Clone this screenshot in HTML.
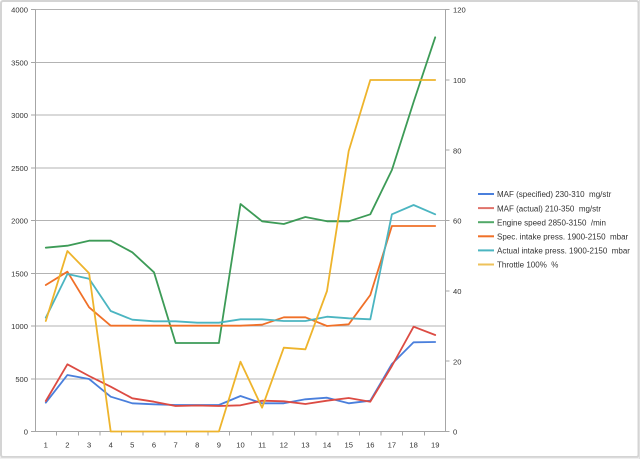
<!DOCTYPE html>
<html><head><meta charset="utf-8"><style>
html,body{margin:0;padding:0;background:#fff;}
svg{display:block;}
text{font-family:"Liberation Sans",Arial,sans-serif;}
</style></head><body>
<svg width="640" height="459" viewBox="0 0 640 459" xmlns="http://www.w3.org/2000/svg">
<rect x="0" y="0" width="640" height="459" fill="#fff"/>
<rect x="1" y="1" width="637.5" height="456" fill="none" stroke="#d4d4d4" stroke-width="2" rx="2"/>
<line x1="0" y1="458" x2="640" y2="458" stroke="#e0e0e0" stroke-width="1"/>
<line x1="639.5" y1="0" x2="639.5" y2="459" stroke="#e0e0e0" stroke-width="1"/>

<!-- gridlines -->
<g stroke="#b3b3b3" stroke-width="1" shape-rendering="crispEdges">
<line x1="35" y1="9.5" x2="445.5" y2="9.5"/>
<line x1="35" y1="62.25" x2="445.5" y2="62.25"/>
<line x1="35" y1="115" x2="445.5" y2="115"/>
<line x1="35" y1="167.75" x2="445.5" y2="167.75"/>
<line x1="35" y1="220.5" x2="445.5" y2="220.5"/>
<line x1="35" y1="273.25" x2="445.5" y2="273.25"/>
<line x1="35" y1="326" x2="445.5" y2="326"/>
<line x1="35" y1="378.75" x2="445.5" y2="378.75"/>
</g>
<!-- axes -->
<g stroke="#a6a6a6" stroke-width="1" shape-rendering="crispEdges">
<line x1="35.5" y1="9.5" x2="35.5" y2="431.5"/>
<line x1="445.5" y1="9.5" x2="445.5" y2="431.5"/>
<line x1="35" y1="431.5" x2="446" y2="431.5"/>
<!-- left ticks -->
<line x1="31" y1="9.5" x2="35" y2="9.5"/>
<line x1="31" y1="62.25" x2="35" y2="62.25"/>
<line x1="31" y1="115" x2="35" y2="115"/>
<line x1="31" y1="167.75" x2="35" y2="167.75"/>
<line x1="31" y1="220.5" x2="35" y2="220.5"/>
<line x1="31" y1="273.25" x2="35" y2="273.25"/>
<line x1="31" y1="326" x2="35" y2="326"/>
<line x1="31" y1="378.75" x2="35" y2="378.75"/>
<line x1="31" y1="431.5" x2="35" y2="431.5"/>
<!-- right ticks -->
<line x1="445.5" y1="9.5" x2="449.5" y2="9.5"/>
<line x1="445.5" y1="79.83" x2="449.5" y2="79.83"/>
<line x1="445.5" y1="150.17" x2="449.5" y2="150.17"/>
<line x1="445.5" y1="220.5" x2="449.5" y2="220.5"/>
<line x1="445.5" y1="290.83" x2="449.5" y2="290.83"/>
<line x1="445.5" y1="361.17" x2="449.5" y2="361.17"/>
<line x1="445.5" y1="431.5" x2="449.5" y2="431.5"/>
<!-- x ticks -->
<line x1="56.6" y1="431.5" x2="56.6" y2="435.5"/>
<line x1="78.3" y1="431.5" x2="78.3" y2="435.5"/>
<line x1="99.9" y1="431.5" x2="99.9" y2="435.5"/>
<line x1="121.5" y1="431.5" x2="121.5" y2="435.5"/>
<line x1="143.2" y1="431.5" x2="143.2" y2="435.5"/>
<line x1="164.8" y1="431.5" x2="164.8" y2="435.5"/>
<line x1="186.4" y1="431.5" x2="186.4" y2="435.5"/>
<line x1="208.1" y1="431.5" x2="208.1" y2="435.5"/>
<line x1="229.7" y1="431.5" x2="229.7" y2="435.5"/>
<line x1="251.3" y1="431.5" x2="251.3" y2="435.5"/>
<line x1="273.0" y1="431.5" x2="273.0" y2="435.5"/>
<line x1="294.6" y1="431.5" x2="294.6" y2="435.5"/>
<line x1="316.2" y1="431.5" x2="316.2" y2="435.5"/>
<line x1="337.8" y1="431.5" x2="337.8" y2="435.5"/>
<line x1="359.5" y1="431.5" x2="359.5" y2="435.5"/>
<line x1="381.1" y1="431.5" x2="381.1" y2="435.5"/>
<line x1="402.7" y1="431.5" x2="402.7" y2="435.5"/>
<line x1="424.4" y1="431.5" x2="424.4" y2="435.5"/>
</g>

<!-- left labels -->
<g font-size="7.6" fill="#333" text-anchor="end">
<text x="28" y="12.6">4000</text>
<text x="28" y="65.3">3500</text>
<text x="28" y="118.1">3000</text>
<text x="28" y="170.8">2500</text>
<text x="28" y="223.6">2000</text>
<text x="28" y="276.3">1500</text>
<text x="28" y="329.1">1000</text>
<text x="28" y="381.8">500</text>
<text x="28" y="434.6">0</text>
</g>
<!-- right labels -->
<g font-size="7.6" fill="#333" text-anchor="start">
<text x="453" y="12.6">120</text>
<text x="453" y="82.9">100</text>
<text x="453" y="153.3">80</text>
<text x="453" y="223.6">60</text>
<text x="453" y="293.9">40</text>
<text x="453" y="364.3">20</text>
<text x="453" y="434.6">0</text>
</g>
<!-- x labels -->
<g font-size="7.6" fill="#333" text-anchor="middle">
<text x="45.8" y="447.3">1</text>
<text x="67.4" y="447.3">2</text>
<text x="89.1" y="447.3">3</text>
<text x="110.7" y="447.3">4</text>
<text x="132.3" y="447.3">5</text>
<text x="154.0" y="447.3">6</text>
<text x="175.6" y="447.3">7</text>
<text x="197.2" y="447.3">8</text>
<text x="218.9" y="447.3">9</text>
<text x="240.5" y="447.3">10</text>
<text x="262.1" y="447.3">11</text>
<text x="283.8" y="447.3">12</text>
<text x="305.4" y="447.3">13</text>
<text x="327.0" y="447.3">14</text>
<text x="348.7" y="447.3">15</text>
<text x="370.3" y="447.3">16</text>
<text x="391.9" y="447.3">17</text>
<text x="413.6" y="447.3">18</text>
<text x="435.2" y="447.3">19</text>
</g>

<!-- series -->
<g fill="none" stroke-width="1.8" stroke-linejoin="round" stroke-linecap="round">
<polyline stroke="#4a7fdc" points="45.8,402.7 67.4,375 89.1,379 110.7,396.7 132.3,403.3 154,404.3 175.6,405 197.2,405 218.9,405 240.5,396 262.1,403.3 283.8,403.3 305.4,399.3 327,397.7 348.7,403.3 370.3,400.7 391.9,364 413.6,342.3 435.2,342"/>
<polyline stroke="#dc4b43" points="45.8,401 67.4,364.3 89.1,376 110.7,386.7 132.3,398.3 154,401.7 175.6,406 197.2,405.5 218.9,406 240.5,405.3 262.1,400.7 283.8,401.3 305.4,404 327,400.7 348.7,398 370.3,401.7 391.9,366 413.6,326.7 435.2,335"/>
<polyline stroke="#3d9b57" points="45.8,247.7 67.4,245.7 89.1,240.7 110.7,240.7 132.3,252.3 154,272.3 175.6,343 197.2,343 218.9,343 240.5,204 262.1,221.3 283.8,224 305.4,217 327,221.3 348.7,221.3 370.3,214.3 391.9,170 413.6,102 435.2,37.3"/>
<polyline stroke="#f07028" points="45.8,285 67.4,271.7 89.1,307.3 110.7,325.7 132.3,325.7 154,325.7 175.6,325.7 197.2,325.7 218.9,325.7 240.5,325.7 262.1,324.7 283.8,317.3 305.4,317.3 327,326 348.7,324.3 370.3,295 391.9,226 413.6,226 435.2,226"/>
<polyline stroke="#4bb5c1" points="45.8,317.7 67.4,274 89.1,278.7 110.7,311 132.3,319.7 154,321.3 175.6,321.3 197.2,322.7 218.9,322.7 240.5,319.3 262.1,319.3 283.8,321 305.4,321 327,316.7 348.7,318.3 370.3,319.3 391.9,214.3 413.6,205 435.2,214.3"/>
<polyline stroke="#eeb42c" points="45.8,321 67.4,251 89.1,273.3 110.7,431.5 132.3,431.5 154,431.5 175.6,431.5 197.2,431.5 218.9,431.5 240.5,361.7 262.1,407.7 283.8,347.7 305.4,349.3 327,291 348.7,151 370.3,80 391.9,80 413.6,80 435.2,80"/>
</g>

<!-- legend -->
<g stroke-width="2">
<line x1="478" y1="194" x2="494" y2="194" stroke="#4a7fdc"/>
<line x1="478" y1="208.1" x2="494" y2="208.1" stroke="#e0736b"/>
<line x1="478" y1="222.2" x2="494" y2="222.2" stroke="#52a868"/>
<line x1="478" y1="236.3" x2="494" y2="236.3" stroke="#f07028"/>
<line x1="478" y1="250.4" x2="494" y2="250.4" stroke="#4bb5c1"/>
<line x1="478" y1="264.5" x2="494" y2="264.5" stroke="#eec25a"/>
</g>
<g font-size="8" fill="#333" style="white-space:pre">
<text x="497" y="197.2" xml:space="preserve">MAF (specified) 230-310  mg/str</text>
<text x="497" y="211.3" xml:space="preserve">MAF (actual) 210-350  mg/str</text>
<text x="497" y="225.4" xml:space="preserve">Engine speed 2850-3150  /min</text>
<text x="497" y="239.5" xml:space="preserve">Spec. intake press. 1900-2150  mbar</text>
<text x="497" y="253.6" xml:space="preserve">Actual intake press. 1900-2150  mbar</text>
<text x="497" y="267.7" xml:space="preserve">Throttle 100%  %</text>
</g>
</svg>
</body></html>
